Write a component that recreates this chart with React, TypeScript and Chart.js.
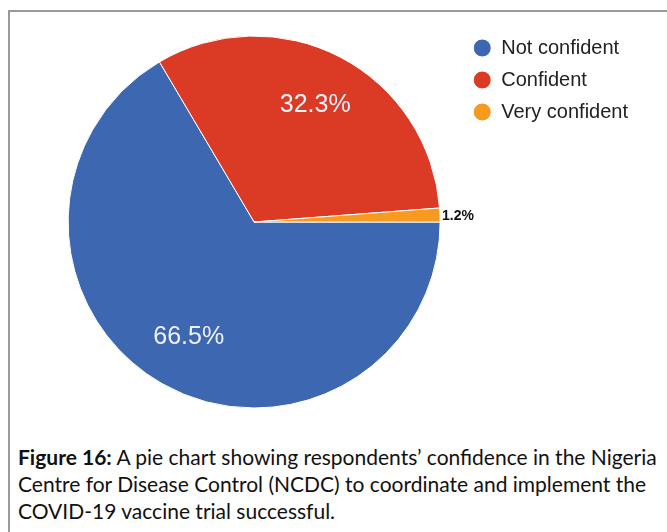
import React, { useEffect, useRef } from "react";
import { Chart, registerables } from "chart.js";

Chart.register(...registerables);

const categories = ["Not confident", "Confident", "Very confident"];
const percentages = [66.5, 32.3, 1.2];
const sliceColors = ["#3e67b1", "#db3a25", "#f79a1e"];
const captionBold = "Figure 16:";
const captionLines = [
  " A pie chart showing respondents\u2019 confidence in the Nigeria",
  "Centre for Disease Control (NCDC) to coordinate and implement the",
  "COVID-19 vaccine trial successful.",
];

const FONT = "'Liberation Sans', Arial, sans-serif";

const pieLabelPlugin = {
  id: "pieLabels",
  afterDatasetsDraw(chart: any) {
    const ctx = chart.ctx;
    const meta = chart.getDatasetMeta(0);
    meta.data.forEach((arc: any, i: number) => {
      const { x, y, startAngle, endAngle, outerRadius } = arc.getProps(
        ["x", "y", "startAngle", "endAngle", "outerRadius"],
        true
      );
      const mid = (startAngle + endAngle) / 2;
      const text = percentages[i].toFixed(1) + "%";
      ctx.save();
      ctx.textBaseline = "middle";
      if (percentages[i] < 5) {
        ctx.font = "bold 14px " + FONT;
        ctx.fillStyle = "#111111";
        ctx.textAlign = "left";
        const r = outerRadius + 2;
        ctx.fillText(text, x + Math.cos(mid) * r, y + Math.sin(mid) * r + 1);
      } else {
        const r = outerRadius * 0.71;
        ctx.font = "25px " + FONT;
        ctx.fillStyle = "#eef2fa";
        ctx.textAlign = "center";
        ctx.fillText(text, x + Math.cos(mid) * r, y + Math.sin(mid) * r);
      }
      ctx.restore();
    });
  },
};

export default function App() {
  const canvasRef = useRef<HTMLCanvasElement | null>(null);

  useEffect(() => {
    if (!canvasRef.current) return;
    const chart = new Chart(canvasRef.current, {
      type: "pie",
      data: {
        labels: categories,
        datasets: [
          {
            data: percentages,
            backgroundColor: sliceColors,
            borderColor: "#ffffff",
            borderWidth: 1,
            radius: 186,
          } as any,
        ],
      },
      options: {
        responsive: false,
        animation: false,
        rotation: 90,
        layout: { padding: { left: 47, top: 26, bottom: 22, right: 29 } },
        plugins: {
          legend: {
            position: "right",
            align: "start",
            labels: {
              usePointStyle: true,
              pointStyle: "circle",
              boxWidth: 18,
              boxHeight: 12.73,
              padding: 12,
              color: "#222222",
              font: { size: 20, family: FONT },
            },
          },
          tooltip: { enabled: false },
        },
      } as any,
      plugins: [pieLabelPlugin],
    });
    return () => chart.destroy();
  }, []);

  return (
    <div
      style={{
        position: "absolute",
        left: 0,
        top: 0,
        width: 667,
        height: 532,
        background: "#ffffff",
        overflow: "hidden",
      }}
    >
      <div
        style={{
          position: "absolute",
          left: 8,
          top: 10,
          width: 720,
          height: 600,
          borderLeft: "2px solid #9a9a9a",
          borderTop: "2px solid #9a9a9a",
        }}
      />
      <canvas
        ref={canvasRef}
        width={667}
        height={440}
        style={{ position: "absolute", left: 0, top: 0, display: "block" }}
      />
      <div
        style={{
          position: "absolute",
          left: 18,
          top: 443,
          fontFamily: "Lato, 'Open Sans', sans-serif",
          fontSize: 21,
          lineHeight: "27px",
          color: "#111111",
          whiteSpace: "nowrap",
        }}
      >
        {captionLines.map((line, i) => (
          <div key={i}>
            {i === 0 ? <b>{captionBold}</b> : null}
            {line}
          </div>
        ))}
      </div>
    </div>
  );
}
